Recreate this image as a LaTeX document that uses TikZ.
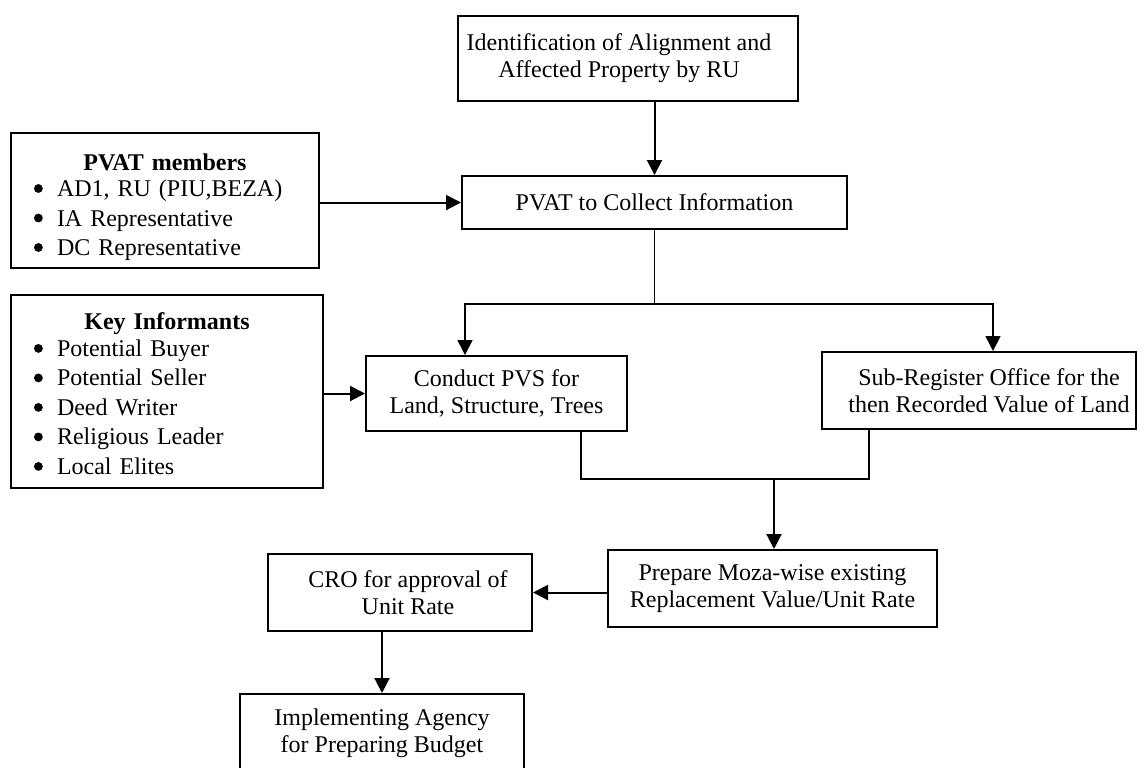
\documentclass[tikz,border=0pt]{standalone}
\usepackage{fontspec}
\setmainfont{Liberation Serif}
\usetikzlibrary{arrows.meta,calc}
\tikzset{
  box/.style={draw, line width=1pt, rectangle, inner sep=0pt, align=center,
    font=\fontsize{12}{13.5}\selectfont},
  listbox/.style={box, align=left, font=\fontsize{12}{14.75}\selectfont},
  link/.style={line width=0.8pt},
  arr/.style={line width=1pt, -{Triangle[length=7.5pt,width=7.5pt]}},
}
% one bullet line inside a list box
\newcommand{\bitem}[1]{\par\noindent\hspace*{11.5pt}%
  \makebox[11.5pt][l]{\tikz[baseline=-4pt]\fill (0,0) circle (2.2pt);}#1}
% centred bold heading of a list box; #1 is the room above its baseline
\newcommand{\listhead}[2]{{\centering\rule{0pt}{#1}\textbf{#2}\par}\vspace{-1.5pt}}
\begin{document}
\begin{tikzpicture}[x=0.5pt,y=-0.5pt]
\useasboundingbox (0,0) rectangle (1146,767);
\clip (0,0) rectangle (1146,767);

% boxes
\node[box, minimum width=170pt, minimum height=42.5pt] (ident) at (628,58.5)
  {Identification of Alignment and\hspace*{9pt}\\Affected Property by RU\hspace*{9pt}};
\node[box, minimum width=192.5pt, minimum height=26.5pt] (collect) at (654.5,202.5)
  {PVAT to Collect Information};
\node[listbox, text width=154pt, minimum height=67.5pt] (members) at (165,200.5)
  {\listhead{14.8pt}{PVAT members}%
   \bitem{AD1, RU (PIU,BEZA)}%
   \bitem{IA Representative}%
   \bitem{DC Representative}};
\node[listbox, text width=156pt, minimum height=96.5pt] (informants) at (167,391.5)
  {\listhead{10.8pt}{Key Informants}%
   \bitem{Potential Buyer}%
   \bitem{Potential Seller}%
   \bitem{Deed Writer}%
   \bitem{Religious Leader}%
   \bitem{Local Elites}};
\node[box, minimum width=130.5pt, minimum height=37.5pt] (conduct) at (496.5,393.5)
  {Conduct PVS for\\Land, Structure, Trees};
\node[box, minimum width=157pt, minimum height=38.5pt] (subreg) at (979,390.5)
  {\hspace*{10pt}Sub-Register Office for the\\\hspace*{10pt}then Recorded Value of Land};
\node[box, minimum width=164.5pt, minimum height=38.5pt] (moza) at (772.5,588.5)
  {Prepare Moza-wise existing\\Replacement Value/Unit Rate};
\node[box, minimum width=132pt, minimum height=38.5pt] (cro) at (400,592.5)
  {\hspace*{8pt}CRO for approval of\\\hspace*{8pt}Unit Rate};
\node[box, minimum width=142pt, minimum height=39.5pt] (impl) at (382,733.5)
  {Implementing Agency\\for Preparing Budget};

% branching and joining points
\coordinate (split) at (654.5,304);
\coordinate (join) at (774,479);

% connectors
\draw[arr] (ident.south -| collect.north) -- (collect.north);
\draw[arr] (members.east |- collect.west) -- (collect.west);
\draw[link] (collect.south) -- (split);
\draw[arr, line width=0.8pt] (split) -| ($(conduct.north west)+(100,0)$);
\draw[arr, line width=0.8pt] (split) -| ($(subreg.north west)+(172,0)$);
\draw[arr] (informants.east |- conduct.west) -- (conduct.west);
\draw[link] ($(conduct.south west)+(216,0)$) |- (join) -| ($(subreg.south west)+(48,0)$);
\draw[arr] (join) -- (join |- moza.north);
\draw[arr] (moza.west |- cro.east) -- (cro.east);
\draw[arr] (impl.north |- cro.south) -- (impl.north);
\end{tikzpicture}
\end{document}
